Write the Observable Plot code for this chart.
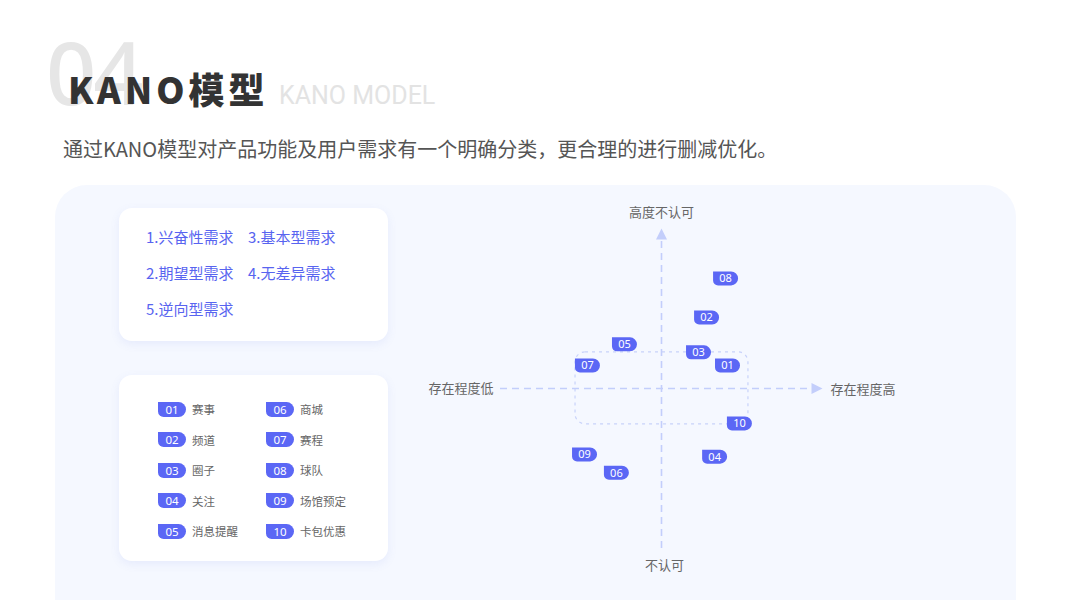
<!DOCTYPE html>
<html>
<head>
<meta charset="utf-8">
<script src="https://cdn.jsdelivr.net/npm/d3@7"></script>
<script src="https://cdn.jsdelivr.net/npm/@observablehq/plot@0.6"></script>
<style>
  html, body { margin: 0; padding: 0; }
  body { width: 1067px; height: 600px; position: relative; overflow: hidden; background: #fff;
         font-family: "Noto Sans CJK SC", "Noto Sans", sans-serif; }
  .abs { position: absolute; white-space: nowrap; }
  #num { left: 46px; top: 27px; font-size: 88px; line-height: 1; color: #e6e6e6; font-family: "Noto Sans", "Roboto", sans-serif; font-weight: 500; letter-spacing: -3px; }
  #title { left: 68px; top: 70px; font-size: 36px; line-height: 1; color: #333; font-weight: 900; letter-spacing: 4px; }
  #entitle { left: 279px; top: 83px; font-size: 25px; line-height: 1; color: #e3e3e3; font-family: "Roboto", "Noto Sans", sans-serif; font-weight: 400; }
  #sub { left: 63px; top: 136px; font-size: 20px; line-height: 26px; color: #555; }
  #panel { left: 55px; top: 185px; width: 961px; height: 480px; background: #f5f8ff; border-radius: 32px; }
  .box { background: #fff; border-radius: 13px; box-shadow: 0 3px 10px rgba(100,120,230,0.10); }
  #types { left: 119px; top: 208px; width: 269px; height: 133px; }
  #types .grid { position: absolute; left: 27px; top: 18px; display: grid; grid-template-columns: 102px 102px; row-gap: 15px; }
  #types .grid div { font-size: 15px; line-height: 21px; color: #5864f0; }
  #feat { left: 119px; top: 375px; width: 269px; height: 186px; }
  #feat .grid { position: absolute; left: 39px; top: 26px; display: grid; grid-template-rows: repeat(5, 30.5px); grid-auto-flow: column; grid-template-columns: 108px 108px; }
  .item { display: flex; align-items: center; height: 16px; }
  .chip { width: 28px; height: 15px; background: #5b67f5; color: #fff; font-size: 11.5px; line-height: 15px; text-align: center;
          border-radius: 0 8px 8px 6px; font-family: "Noto Sans", "Roboto", sans-serif; }
  .lab { margin-left: 6px; font-size: 11.5px; color: #666; }
  #chart { left: 420px; top: 195px; }
</style>
</head>
<body>
<div id="num" class="abs"></div>
<div id="title" class="abs"></div>
<div id="entitle" class="abs"></div>
<div id="sub" class="abs"></div>
<div id="panel" class="abs"></div>
<div id="types" class="abs box"><div class="grid"></div></div>
<div id="feat" class="abs box"><div class="grid"></div></div>
<div id="chart" class="abs"></div>
<script>
// ---- text ----
const sectionNumber = "04";
const titleText = "KANO模型";
const titleEn = "KANO MODEL";
const subtitleText = "通过KANO模型对产品功能及用户需求有一个明确分类，更合理的进行删减优化。";

// ---- requirement types (legend 1, row-major in two columns) ----
const needTypes = ["1.兴奋性需求", "3.基本型需求", "2.期望型需求", "4.无差异需求", "5.逆向型需求"];

// ---- features ----
const codes = ["01", "02", "03", "04", "05", "06", "07", "08", "09", "10"];
const features = ["赛事", "频道", "圈子", "关注", "消息提醒", "商城", "赛程", "球队", "场馆预定", "卡包优惠"];
// horizontal: 存在程度 (low -> high), vertical: 认可度 (不认可 -> 高度不认可)
const presence = [2.05, 1.40, 1.15, 1.65, -1.15, -1.40, -2.30, 1.99, -2.39, 2.42];
const approval = [0.72, 2.22, 1.13, -2.13, 1.38, -2.63, 0.72, 3.44, -2.06, -1.09];

// ---- axes ----
const axisExtent = [-5, 5];
const axisLabels = ["高度不认可", "不认可", "存在程度低", "存在程度高"];
// dashed zone around the centre
const zone = [{x1: -2.67, x2: 2.70, y1: -1.12, y2: 1.13}];

document.getElementById("num").textContent = sectionNumber;
document.getElementById("title").textContent = titleText;
document.getElementById("entitle").textContent = titleEn;
document.getElementById("sub").textContent = subtitleText;

const tg = document.querySelector("#types .grid");
needTypes.forEach(t => { const d = document.createElement("div"); d.textContent = t; tg.appendChild(d); });

const fg = document.querySelector("#feat .grid");
codes.forEach((c, i) => {
  const it = document.createElement("div"); it.className = "item";
  const ch = document.createElement("div"); ch.className = "chip"; ch.textContent = c;
  const lb = document.createElement("div"); lb.className = "lab"; lb.textContent = features[i];
  it.appendChild(ch); it.appendChild(lb); fg.appendChild(it);
});

const points = codes.map((c, i) => ({code: c, name: features[i], x: presence[i], y: approval[i]}));

const badge = {
  draw(ctx) {
    const w = 25, h = 14, r = 7, rb = 5;
    const x0 = -w / 2, x1 = w / 2, y0 = -h / 2, y1 = h / 2;
    ctx.moveTo(x0, y0);
    ctx.lineTo(x1 - r, y0);
    ctx.arcTo(x1, y0, x1, y0 + r, r);
    ctx.arcTo(x1, y1, x1 - r, y1, r);
    ctx.lineTo(x0 + rb, y1);
    ctx.arcTo(x0, y1, x0, y1 - rb, rb);
    ctx.closePath();
  }
};
const arrowHead = {
  draw(ctx) {
    ctx.moveTo(0, 0);
    ctx.lineTo(-11, -5.5);
    ctx.lineTo(-11, 5.5);
    ctx.closePath();
  }
};

const axisColor = "#c3cefb";
const [lo, hi] = axisExtent;
const labelStyle = {fontSize: 13, fill: "#666"};

const chart = Plot.plot({
  width: 500,
  height: 390,
  marginLeft: 80, marginRight: 98, marginTop: 33, marginBottom: 37,
  x: {domain: axisExtent, axis: null},
  y: {domain: axisExtent, axis: null},
  style: {background: "transparent", fontFamily: "Noto Sans CJK SC, sans-serif", overflow: "visible"},
  marks: [
    Plot.rect(zone, {x1: "x1", x2: "x2", y1: "y1", y2: "y2", fill: "none", stroke: "#c8d2fa", strokeWidth: 1.2, strokeDasharray: "3,4", rx: 10}),
    Plot.ruleY([0], {x1: lo, x2: hi - 0.2, stroke: axisColor, strokeWidth: 1.6, strokeDasharray: "7,5"}),
    Plot.ruleX([0], {y1: lo, y2: hi - 0.2, stroke: axisColor, strokeWidth: 1.6, strokeDasharray: "7,5"}),
    Plot.dot([{x: hi, y: 0, a: 0}, {x: 0, y: hi, a: -90}], {x: "x", y: "y", rotate: "a", symbol: arrowHead, fill: axisColor, stroke: "none"}),
    Plot.text([axisLabels[0]], {x: 0, y: hi, text: d => d, dy: -16, textAnchor: "middle", ...labelStyle}),
    Plot.text([axisLabels[1]], {x: 0, y: lo, text: d => d, dx: 3, dy: 17, textAnchor: "middle", ...labelStyle}),
    Plot.text([axisLabels[2]], {x: lo, y: 0, text: d => d, dx: -7, textAnchor: "end", ...labelStyle}),
    Plot.text([axisLabels[3]], {x: hi, y: 0, text: d => d, dx: 8, dy: 1, textAnchor: "start", ...labelStyle}),
    Plot.dot(points, {x: "x", y: "y", symbol: badge, fill: "#5b67f5", stroke: "none"}),
    Plot.text(points, {x: "x", y: "y", text: "code", fill: "#fff", fontSize: 11, fontFamily: "Noto Sans, sans-serif", dy: 0.5})
  ]
});
document.getElementById("chart").appendChild(chart);
</script>
</body>
</html>
